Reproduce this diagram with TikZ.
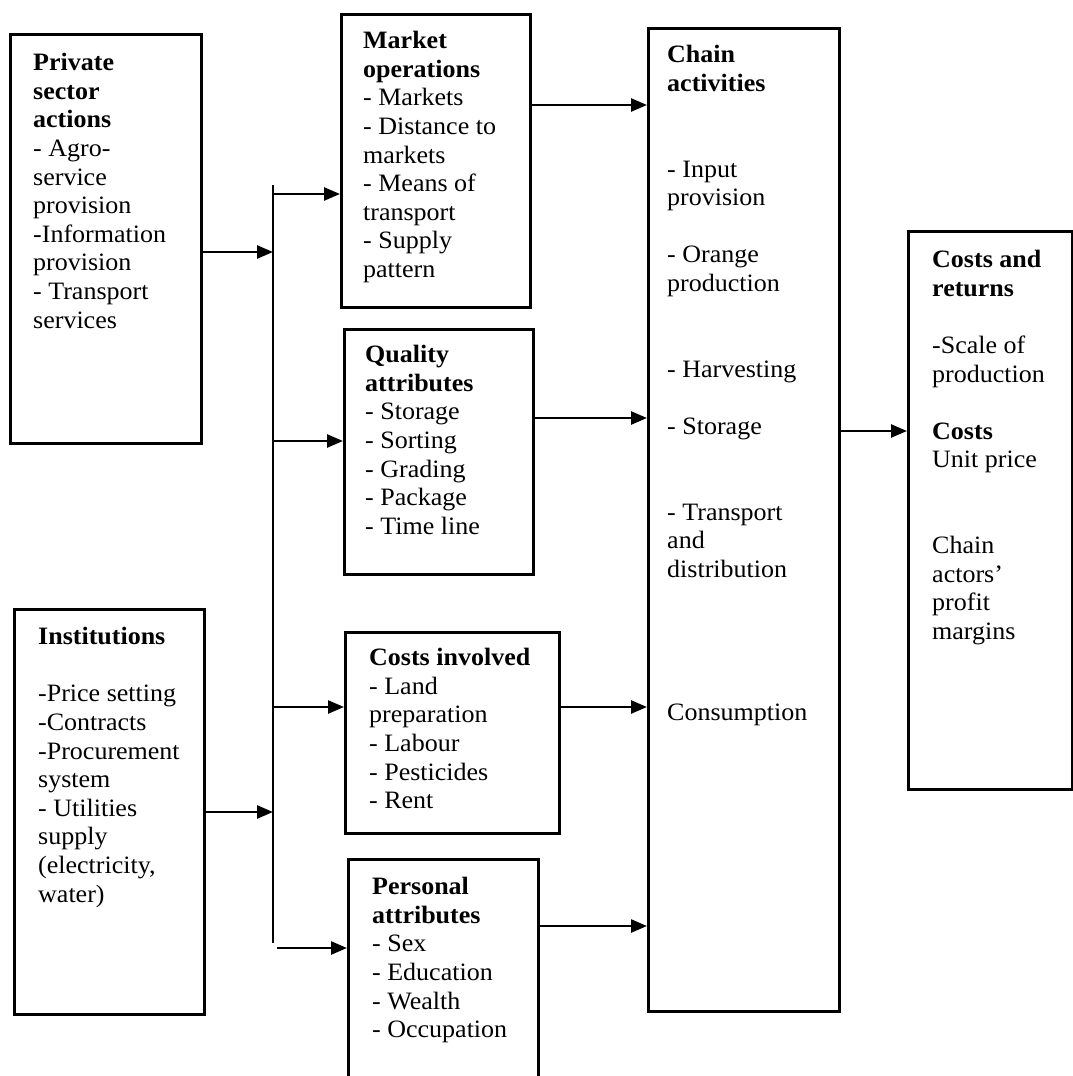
\documentclass[tikz,border=0pt]{standalone}
\usepackage{fontspec}
\setmainfont[FakeStretch=1.04]{Liberation Serif}
\usetikzlibrary{arrows.meta}
\begin{document}
\begin{tikzpicture}[x=1pt,y=-1pt,
  box/.style={draw, line width=2.5pt, rectangle, inner sep=0pt, anchor=north west},
  txt/.style={anchor=north west, inner sep=0pt, align=left, font=\fontsize{25pt}{28.6pt}\selectfont},
  arr/.style={line width=2.5pt, -{Triangle[length=16pt,width=13pt]}},
  ln/.style={line width=2.5pt}]
\clip (0,0) rectangle (1073,1076);
\fill[white] (0,0) rectangle (1073,1076);

% boxes
\node[box, minimum width=191pt, minimum height=409pt] (priv) at (9,33) {};
\node[box, minimum width=190pt, minimum height=405pt] (inst) at (13,608) {};
\node[box, minimum width=189pt, minimum height=293pt] (market) at (340,13) {};
\node[box, minimum width=189pt, minimum height=245pt] (quality) at (343,328) {};
\node[box, minimum width=214pt, minimum height=201pt] (costs) at (344,631) {};
\node[box, minimum width=190pt, minimum height=280pt] (personal) at (347,858) {};
\node[box, minimum width=191pt, minimum height=983pt] (chain) at (647,27) {};
\node[box, minimum width=164pt, minimum height=558pt] (cr) at (907,230) {};

% texts
\node[txt] (privt) at (33,50.5) {\strut\textbf{Private}\\ \textbf{sector}\\ \textbf{actions}\\ - Agro-\\ service\\ provision\\ -Information\\ provision\\ - Transport\\ services};
\node[txt] (instt) at (38,624.5) {\strut\textbf{Institutions}\\[28.6pt] -Price setting\\ -Contracts\\ -Procurement\\ system\\ - Utilities\\ supply\\ (electricity,\\ water)};
\node[txt] (markett) at (363,28.5) {\strut\textbf{Market}\\ \textbf{operations}\\ - Markets\\ - Distance to\\ markets\\ - Means of\\ transport\\ - Supply\\ pattern};
\node[txt] (qualityt) at (365,342.5) {\strut\textbf{Quality}\\ \textbf{attributes}\\ - Storage\\ - Sorting\\ - Grading\\ - Package\\ - Time line};
\node[txt] (costst) at (369,645.5) {\strut\textbf{Costs involved}\\ - Land\\ preparation\\ - Labour\\ - Pesticides\\ - Rent};
\node[txt] (personalt) at (372,874.5) {\strut\textbf{Personal}\\ \textbf{attributes}\\ - Sex\\ - Education\\ - Wealth\\ - Occupation};
\node[txt] (chaint) at (667,42.5) {\strut\textbf{Chain}\\ \textbf{activities}\\[57.2pt] - Input\\ provision\\[28.6pt] - Orange\\ production\\[57.2pt] - Harvesting\\[28.6pt] - Storage\\[57.2pt] - Transport\\ and\\ distribution\\[114.4pt] Consumption};
\node[txt] (crt) at (932,247.5) {\strut\textbf{Costs and}\\ \textbf{returns}\\[28.6pt] -Scale of\\ production\\[28.6pt] \textbf{Costs}\\ Unit price\\[57.2pt] Chain\\ actors'\\ profit\\ margins};

% bus
\coordinate (btop) at (273,185);
\coordinate (bbot) at (273,943);
\draw[ln] (btop) -- (bbot);

\coordinate (bp) at (273,252);
\draw[arr] (priv.east |- bp) -- (bp);
\coordinate (bi) at (273,812);
\draw[arr] (inst.east |- bi) -- (bi);

\coordinate (bm) at (273,194);
\draw[arr] (bm) -- (bm -| market.west);
\coordinate (bq) at (273,441);
\draw[arr] (bq) -- (bq -| quality.west);
\coordinate (bc) at (273,707);
\draw[arr] (bc) -- (bc -| costs.west);
\coordinate (bpe) at (277,948);
\draw[arr] (bpe) -- (bpe -| personal.west);

% into chain
\coordinate (ym) at (0,105);
\draw[arr] (market.east |- ym) -- (chain.west |- ym);
\coordinate (yq) at (0,418);
\draw[arr] (quality.east |- yq) -- (chain.west |- yq);
\coordinate (yc) at (0,707);
\draw[arr] (costs.east |- yc) -- (chain.west |- yc);
\coordinate (yp) at (0,926);
\draw[arr] (personal.east |- yp) -- (chain.west |- yp);

% chain to costs and returns
\coordinate (ycr) at (0,431);
\draw[arr] (chain.east |- ycr) -- (cr.west |- ycr);
\end{tikzpicture}
\end{document}
